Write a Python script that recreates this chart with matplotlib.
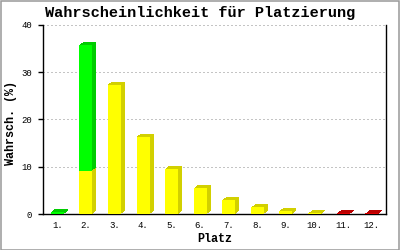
import matplotlib
matplotlib.use("Agg")
import matplotlib.pyplot as plt
import matplotlib.patheffects as pe
from matplotlib.patches import Rectangle
import numpy as np

# ---- data ----
places = ['1.', '2.', '3.', '4.', '5.', '6.', '7.', '8.', '9.', '10.', '11.', '12.']
yellow_vals = [0, 9.2, 27.4, 16.4, 9.6, 5.5, 3.0, 1.4, 0.65, 0.2, 0, 0]
green_vals = [0.4, 26.6, 0, 0, 0, 0, 0, 0, 0, 0, 0, 0]
red_vals = [0, 0, 0, 0, 0, 0, 0, 0, 0, 0, 0.15, 0.15]
yticks = [0, 10, 20, 30, 40]
title = 'Wahrscheinlichkeit für Platzierung'
xlabel = 'Platz'
ylabel = 'Wahrsch. (%)'

DPI = 100
W, H = 400, 250
FONT = ['Liberation Mono', 'DejaVu Sans Mono']

fig = plt.figure(figsize=(W / DPI, H / DPI), dpi=DPI)
ax = fig.add_axes([43 / W, 36 / H, 343 / W, 189 / H])

x = np.arange(1, len(places) + 1)
bar_w = 0.455


def extrude(side_color, dx_px=4.0, dy_px=3.0, steps=8):
    effects = []
    for i in range(steps, 0, -1):
        f = i / steps
        effects.append(pe.SimplePatchShadow(
            offset=(dx_px * f * 72 / DPI, dy_px * f * 72 / DPI),
            shadow_rgbFace=side_color, alpha=1.0))
    effects.append(pe.Normal())
    return effects


def draw_series(vals, bottom, front, side, z):
    vals = np.asarray(vals, dtype=float)
    bottom = np.asarray(bottom, dtype=float)
    m = vals > 0
    bars = ax.bar(x[m], vals[m], bar_w, bottom=bottom[m], color=front,
                  linewidth=0, zorder=z)
    for b in bars:
        b.set_path_effects(extrude(side))


zeros = np.zeros(len(places))
draw_series(yellow_vals, zeros, '#FFFF00', '#D2D000', 3)
draw_series(green_vals, yellow_vals, '#00FF00', '#00CC00', 4)
draw_series(red_vals, zeros, '#DD0000', '#BB0000', 3)

ax.set_xlim(0.5, len(places) + 0.5)
ax.set_ylim(0, 40)
ax.set_yticks(yticks)
ax.set_xticks(x)
ax.set_xticklabels(places)

ax.set_axisbelow(True)
ax.yaxis.grid(True, color='#C4C4C4', linestyle=(0, (2, 2.5)), linewidth=0.72,
              antialiased=False)
ax.xaxis.grid(False)

for s in ['left', 'bottom', 'right']:
    ax.spines[s].set_color('black')
    ax.spines[s].set_linewidth(1.0)
ax.spines['top'].set_visible(False)

ax.tick_params(axis='x', length=0, pad=5, labelsize=6.5)
ax.tick_params(axis='y', length=3.6, width=1.0, direction='out', pad=4.5,
               labelsize=6.5)
for lab in ax.get_xticklabels() + ax.get_yticklabels():
    lab.set_family(FONT)

ax.set_xlabel(xlabel, family=FONT, fontsize=8.5, fontweight='bold')
ax.xaxis.set_label_coords(0.5, -(239 - 214) / 189)
ax.xaxis.label.set_va('center')
ax.set_ylabel(ylabel, family=FONT, fontsize=8.5, fontweight='bold')
ax.yaxis.set_label_coords((11 - 43) / 343, 0.48)
ax.yaxis.label.set_va('center')

fig.text(200 / W, 1 - 13 / H, title, family=FONT, fontsize=11,
         fontweight='bold', ha='center', va='center')

fig.patches.append(Rectangle((0.5 / W, 0.5 / H), 398 / W, 248.5 / H,
                             transform=fig.transFigure, fill=False,
                             edgecolor='#999999', linewidth=1.1))

fig.savefig('out.png', dpi=DPI)
